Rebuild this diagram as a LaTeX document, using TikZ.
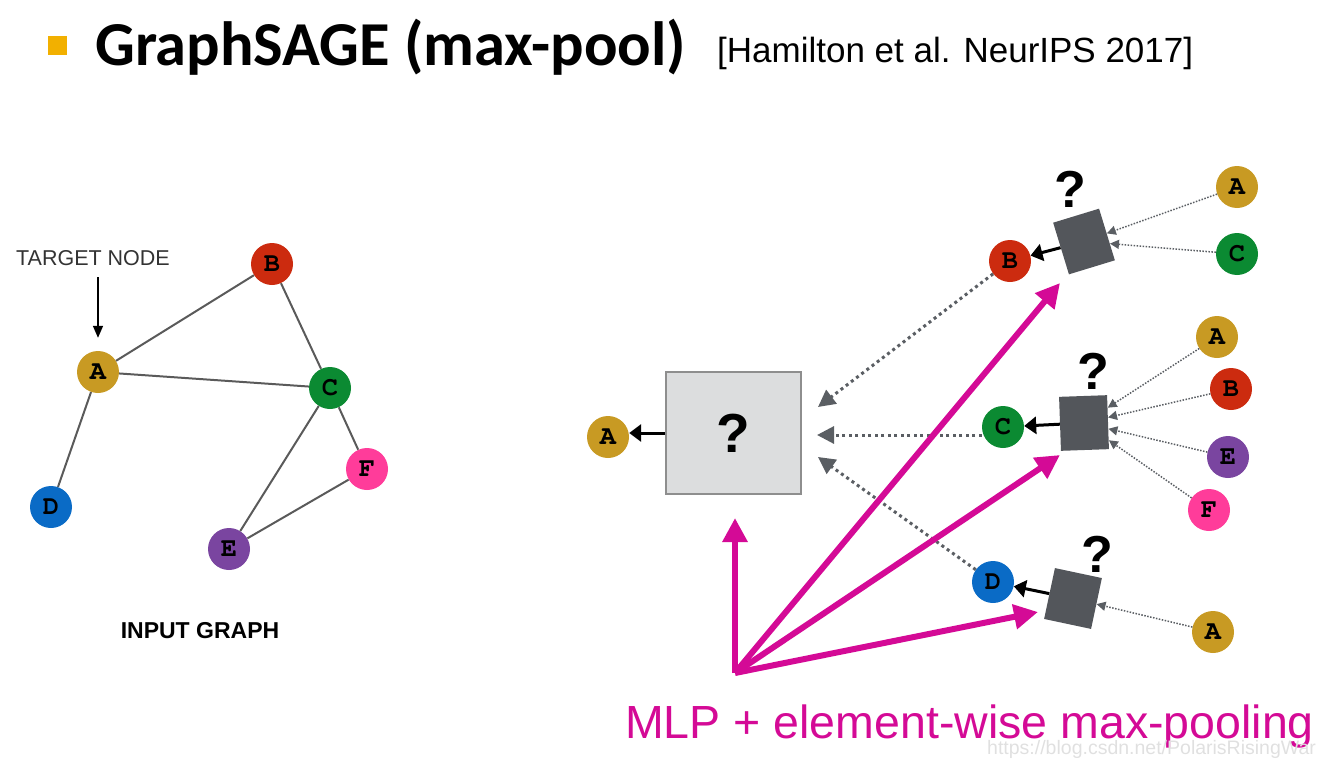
\documentclass[tikz,border=0pt]{standalone}
\usepackage{fontspec}
\setmainfont{Liberation Sans}
\setmonofont{TeX Gyre Cursor}
\newfontfamily\titlefont{Carlito}
\usetikzlibrary{arrows.meta}
\definecolor{nA}{HTML}{C89A23}
\definecolor{nB}{HTML}{CC2B0F}
\definecolor{nC}{HTML}{0B8A32}
\definecolor{nD}{HTML}{0A6BC6}
\definecolor{nE}{HTML}{7A45A0}
\definecolor{nF}{HTML}{FF3C9A}
\definecolor{bullet}{HTML}{F2B000}
\definecolor{edgegray}{HTML}{5A5A5A}
\definecolor{dotgray}{HTML}{5A5E63}
\definecolor{poolgray}{HTML}{53565B}
\definecolor{boxgray}{HTML}{DCDDDE}
\definecolor{boxline}{HTML}{8E8E8E}
\definecolor{mlppink}{HTML}{D40A96}
\newcommand{\fs}[1]{\fontsize{#1}{#1}\selectfont}

\begin{document}
\begin{tikzpicture}[x=1pt, y=-1pt,
    vert/.style={circle, inner sep=0pt, minimum size=42pt, font=\ttfamily\bfseries\fs{27}},
    edge/.style={draw=edgegray, line width=2pt},
    pool/.style={fill=poolgray, inner sep=0pt, minimum width=48pt, minimum height=54pt},
    qmark/.style={inner sep=0pt, font=\bfseries\fs{52}},
    feed/.style={draw=dotgray, line width=3pt, dash pattern=on 3pt off 3.5pt, -{Triangle[length=17pt, width=17pt]}},
    msg/.style={draw=dotgray, line width=1.5pt, dash pattern=on 1.5pt off 1.5pt, -{Triangle[length=9pt, width=9pt]}},
    emit/.style={draw=black, line width=3pt, -{Triangle[length=12pt, width=17pt]}},
    mlp/.style={draw=mlppink, line width=6pt, -{Triangle[length=24pt, width=24pt]}},
    txt/.style={inner sep=0pt},
  ]
  \useasboundingbox (0,0) rectangle (1328,771);

  % title line
  \node[fill=bullet, minimum size=19pt, inner sep=0pt] (bullet) at (57,45) {};
  \node[txt, anchor=base west, font=\titlefont\bfseries\fs{62.5}] (title) at (95,65) {GraphSAGE (max-pool)};
  \node[txt, anchor=base west, font=\fs{35}] (ref) at (717,62) {[Hamilton et al. NeurIPS 2017]};

  % input graph
  \node[vert, fill=nA] (gA) at (98,372) {A};
  \node[vert, fill=nB] (gB) at (272,264) {B};
  \node[vert, fill=nC] (gC) at (330,388) {C};
  \node[vert, fill=nD] (gD) at (51,507) {D};
  \node[vert, fill=nE] (gE) at (229,549) {E};
  \node[vert, fill=nF] (gF) at (367,469) {F};
  \draw[edge] (gA) -- (gB);
  \draw[edge] (gA) -- (gC);
  \draw[edge] (gB) -- (gC);
  \draw[edge] (gA) -- (gD);
  \draw[edge] (gC) -- (gE);
  \draw[edge] (gC) -- (gF);
  \draw[edge] (gE) -- (gF);
  \node[txt, anchor=base, font=\fs{21.5}, text=black!80] (tgt) at (93,265) {TARGET NODE};
  \draw[line width=1.5pt, -{Triangle[length=12pt, width=10pt]}, shorten <=12pt, shorten >=13pt] (tgt.south -| gA) -- (gA);
  \node[txt, anchor=base, font=\bfseries\fs{23}] (cap) at (200,638) {INPUT GRAPH};

  % aggregation for A
  \node[vert, fill=nA] (oA) at (608,437) {A};
  \node[draw=boxline, fill=boxgray, line width=1.5pt, minimum width=135pt, minimum height=122pt,
    font=\bfseries\fs{55}] (agg) at (733.5,433) {?};
  \draw[emit] (agg.west) -- (agg.west -| oA.east);

  % neighbours of A
  \node[vert, fill=nB] (b1) at (1010,261) {B};
  \node[vert, fill=nC] (c1) at (1003,427) {C};
  \node[vert, fill=nD] (d1) at (993,582) {D};
  \coordinate (inB) at (818,407);
  \coordinate (inC) at (817,435);
  \coordinate (inD) at (818,457);
  \draw[feed] (b1) -- (inB);
  \draw[feed] (c1.west |- inC) -- (inC);
  \draw[feed] (d1) -- (inD);

  % pooling units
  \node[pool, rotate=17] (s1) at (1084,241.5) {};
  \node[pool, rotate=2] (s2) at (1084,423) {};
  \node[pool, minimum height=52pt, rotate=-12] (s3) at (1073,598.5) {};
  \node[qmark] (q1) at (1070,189) {?};
  \node[qmark] (q2) at (1093,371) {?};
  \node[qmark] (q3) at (1097,554) {?};
  \draw[emit] (s1) -- (b1);
  \draw[emit] (s2) -- (c1);
  \draw[emit] (s3) -- (d1);

  % second hop
  \node[vert, fill=nA] (a11) at (1237,187) {A};
  \node[vert, fill=nC] (c11) at (1237,254) {C};
  \node[vert, fill=nA] (a21) at (1217,337) {A};
  \node[vert, fill=nB] (b21) at (1231,389) {B};
  \node[vert, fill=nE] (e21) at (1228,457) {E};
  \node[vert, fill=nF] (f21) at (1209,510) {F};
  \node[vert, fill=nA] (a31) at (1213,632) {A};
  \draw[msg] (a11) -- (s1);
  \draw[msg] (c11) -- (s1);
  \draw[msg] (a21) -- (s2);
  \draw[msg] (b21) -- (s2);
  \draw[msg] (e21) -- (s2);
  \draw[msg] (f21) -- (s2);
  \draw[msg] (a31) -- (s3);

  % shared MLP weights
  \coordinate (mlp) at (735,673);
  \coordinate (up) at (735,518);
  \coordinate (to1) at (1060,283);
  \coordinate (to2) at (1060,455);
  \coordinate (to3) at (1038,612);
  \draw[mlp] (mlp) -- (up);
  \draw[mlp] (mlp) -- (to1);
  \draw[mlp] (mlp) -- (to2);
  \draw[mlp] (mlp) -- (to3);
  \node[txt, anchor=base west, font=\fs{46.5}, text=mlppink] (mlptxt) at (625,738) {MLP + element-wise max-pooling};
  \node[txt, anchor=base west, font=\fs{19.5}, text=black!12] (wm) at (987,754) {https://blog.csdn.net/PolarisRisingWar};
\end{tikzpicture}
\end{document}
